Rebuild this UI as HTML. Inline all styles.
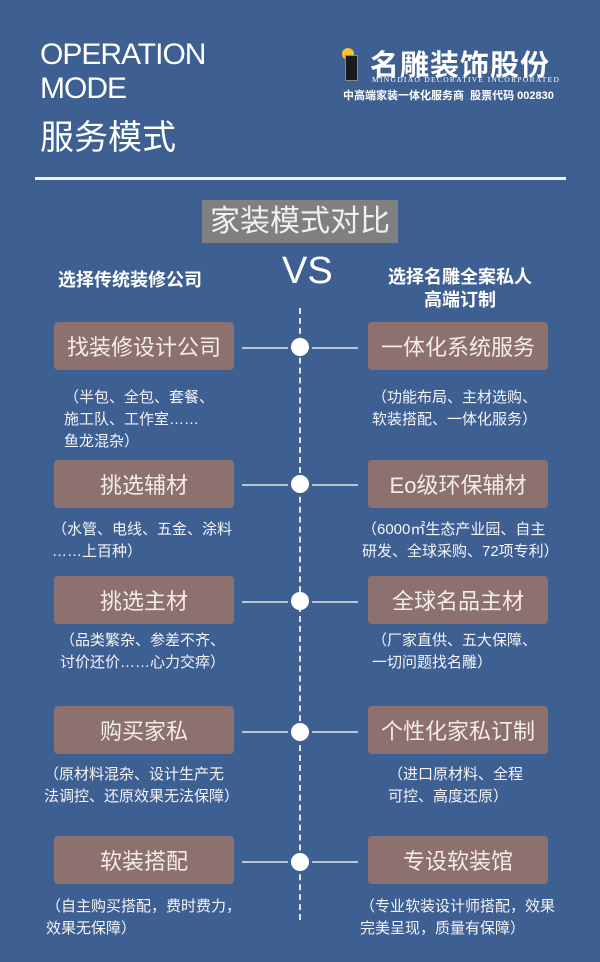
<!DOCTYPE html>
<html><head><meta charset="utf-8"><style>
*{margin:0;padding:0;box-sizing:border-box}
body{width:600px;height:962px;background:#3e5f92;position:relative;overflow:hidden;font-family:"Liberation Sans","Noto Sans CJK SC",sans-serif;color:#fff}
.a{position:absolute;white-space:nowrap}
.box{position:absolute;width:180px;height:48px;background:#8d716f;border-radius:4px;color:#f2ecea;font-size:22px;display:flex;align-items:center;justify-content:center}
.d{position:absolute;font-size:15px;line-height:22px;color:#f4f4f8;white-space:nowrap}
.c{position:absolute;left:291px;width:18px;height:18px;border-radius:50%;background:#fff}
.ar{position:absolute;height:2px;background:#b9c3d4}
</style></head><body>
<div class="a" style="left:40px;top:38px;font-size:30px;line-height:34px;letter-spacing:-1px">OPERATION<br>MODE</div>
<div class="a" style="left:40px;top:118px;font-size:34px;line-height:40px">服务模式</div>
<div class="a" style="left:342px;top:48px;width:12px;height:12px;border-radius:50%;background:#f3c52a"></div>
<div class="a" style="left:345px;top:55px;width:13px;height:26px;background:#1a1a1a;border:1px solid #888"></div>
<div class="a" style="left:370px;top:42px;font-size:29px;font-weight:bold;letter-spacing:1px">名雕装饰股份</div>
<div class="a" style="left:372px;top:76px;font-size:7.5px;line-height:8px;font-family:'Liberation Serif',serif;letter-spacing:1.3px">MINGDIAO DECORATIVE INCORPORATED</div>
<div class="a" style="left:343px;top:87px;font-size:11px;font-weight:bold">中高端家装一体化服务商&nbsp; 股票代码 002830</div>
<div class="a" style="left:35px;top:177px;width:531px;height:3px;background:#f0f2f6"></div>
<div class="a" style="left:202px;top:200px;width:196px;height:43px;background:#808080;font-size:30px;line-height:43px;text-align:center;color:#f0f0f0">家装模式对比</div>
<div class="a" style="left:58px;top:266px;font-size:18px;font-weight:bold">选择传统装修公司</div>
<div class="a" style="left:282px;top:251px;font-size:38px;line-height:40px">VS</div>
<div class="a" style="left:370px;top:266px;width:180px;text-align:center;font-size:18px;font-weight:bold;line-height:23px">选择名雕全案私人<br>高端订制</div>
<div class="a" style="left:299px;top:308px;height:612px;border-left:2px dashed #dfe4ee"></div>

<div class="box" style="left:54px;top:322px">找装修设计公司</div>
<div class="box" style="left:368px;top:322px">一体化系统服务</div>
<div class="c" style="top:338px"></div>
<div class="ar" style="left:242px;top:347px;width:46px"></div><div class="ar" style="left:312px;top:347px;width:46px"></div>
<div class="d" style="left:64px;top:387px">（半包、全包、套餐、<br>施工队、工作室……<br>鱼龙混杂）</div>
<div class="d" style="left:372px;top:387px">（功能布局、主材选购、<br>软装搭配、一体化服务）</div>

<div class="box" style="left:54px;top:460px">挑选辅材</div>
<div class="box" style="left:368px;top:460px">Eo级环保辅材</div>
<div class="c" style="top:475px"></div>
<div class="ar" style="left:242px;top:484px;width:46px"></div><div class="ar" style="left:312px;top:484px;width:46px"></div>
<div class="d" style="left:52px;top:519px">（水管、电线、五金、涂料<br>……上百种）</div>
<div class="d" style="left:362px;top:519px">（6000㎡生态产业园、自主<br>研发、全球采购、72项专利）</div>

<div class="box" style="left:54px;top:576px">挑选主材</div>
<div class="box" style="left:368px;top:576px">全球名品主材</div>
<div class="c" style="top:592px"></div>
<div class="ar" style="left:242px;top:601px;width:46px"></div><div class="ar" style="left:312px;top:601px;width:46px"></div>
<div class="d" style="left:60px;top:630px">（品类繁杂、参差不齐、<br>讨价还价……心力交瘁）</div>
<div class="d" style="left:372px;top:630px">（厂家直供、五大保障、<br>一切问题找名雕）</div>

<div class="box" style="left:54px;top:706px">购买家私</div>
<div class="box" style="left:368px;top:706px">个性化家私订制</div>
<div class="c" style="top:723px"></div>
<div class="ar" style="left:242px;top:731px;width:46px"></div><div class="ar" style="left:312px;top:731px;width:46px"></div>
<div class="d" style="left:44px;top:764px">（原材料混杂、设计生产无<br>法调控、还原效果无法保障）</div>
<div class="d" style="left:388px;top:764px">（进口原材料、全程<br>可控、高度还原）</div>

<div class="box" style="left:54px;top:836px">软装搭配</div>
<div class="box" style="left:368px;top:836px">专设软装馆</div>
<div class="c" style="top:853px"></div>
<div class="ar" style="left:242px;top:861px;width:46px"></div><div class="ar" style="left:312px;top:861px;width:46px"></div>
<div class="d" style="left:46px;top:896px">（自主购买搭配，费时费力，<br>效果无保障）</div>
<div class="d" style="left:360px;top:896px">（专业软装设计师搭配，效果<br>完美呈现，质量有保障）</div>
</body></html>
